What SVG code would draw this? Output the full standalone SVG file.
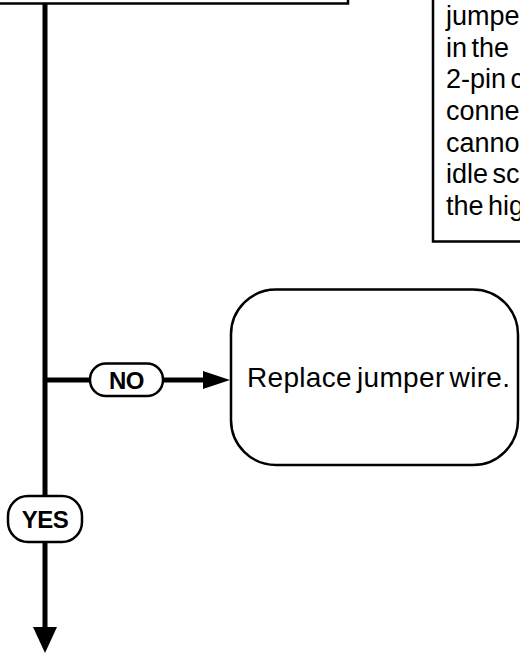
<svg xmlns="http://www.w3.org/2000/svg" width="520" height="654" viewBox="0 0 520 654">
  <defs>
    <style>
      .box { fill: #ffffff; stroke: #000000; stroke-width: 2.5; }
      .pill { fill: #ffffff; stroke: #000000; stroke-width: 2.5; }
      .line { fill: none; stroke: #000000; stroke-width: 5; }
      .txt { font-family: "Liberation Sans", Arial, sans-serif; font-size: 27px; fill: #000000; word-spacing: -3px; }
      .lbl { font-family: "Liberation Sans", Arial, sans-serif; font-size: 24px; font-weight: bold; fill: #000000; text-anchor: middle; letter-spacing: -0.5px; }
    </style>
  </defs>
  <rect width="520" height="654" fill="#ffffff"/>

  <g id="connectors">
    <line class="line" x1="45" y1="3" x2="45" y2="630"/>
    <polygon points="33,627 57,627 45,653" fill="#000000"/>
    <line class="line" x1="45" y1="380" x2="206" y2="380"/>
    <polygon points="203,371 230,380 203,389" fill="#000000"/>
  </g>

  <g id="node-top">
    <rect class="box" x="-10" y="-40" width="358" height="43.5"/>
  </g>

  <g id="node-note">
    <rect class="box" x="433" y="-10" width="100" height="251.5"/>
    <text class="txt" x="446" y="25">jumpe</text>
    <text class="txt" x="446" y="56.7">in the</text>
    <text class="txt" x="446" y="88.3">2-pin c</text>
    <text class="txt" x="446" y="120">conne</text>
    <text class="txt" x="446" y="151.7">canno</text>
    <text class="txt" x="446" y="183.3">idle sc</text>
    <text class="txt" x="446" y="215">the hig</text>
  </g>

  <g id="node-replace">
    <rect class="box" x="231" y="289.5" width="287" height="175.5" rx="45" ry="45"/>
    <text class="txt" x="247" y="387" textLength="263" lengthAdjust="spacing" style="font-size:28px">Replace jumper wire.</text>
  </g>

  <g id="label-no">
    <rect class="pill" x="90" y="363.5" width="73" height="32.5" rx="16" ry="16"/>
    <text class="lbl" x="126.5" y="388.5">NO</text>
  </g>

  <g id="label-yes">
    <rect class="pill" x="8" y="496" width="74" height="46" rx="20" ry="20"/>
    <text class="lbl" x="45" y="527.5">YES</text>
  </g>
</svg>
